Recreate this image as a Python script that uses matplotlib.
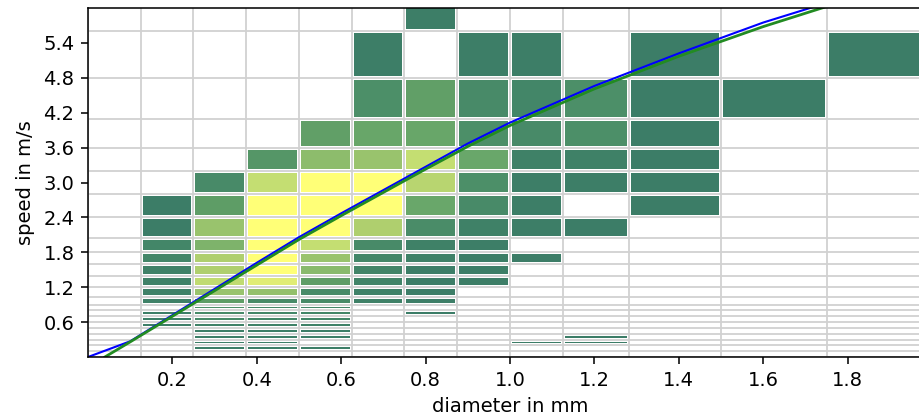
import numpy as np
import matplotlib
matplotlib.use("Agg")
import matplotlib.pyplot as plt
from matplotlib.colors import LinearSegmentedColormap, Normalize

# Parsivel-like class centres
diam_centers = [0.062, 0.187, 0.312, 0.437, 0.562, 0.687, 0.812, 0.937,
                1.062, 1.187, 1.375, 1.625, 1.875]
speed_centers = [0.05, 0.15, 0.25, 0.35, 0.45, 0.55, 0.65, 0.75, 0.85, 0.95,
                 1.1, 1.3, 1.5, 1.7, 1.9, 2.2, 2.6, 3.0, 3.4, 3.8, 4.4, 5.2, 6.0]

# relative drop density per (speed row, diameter column); 0 = no drops
density = [
    [0, 0, 0, 0, 0, 0, 0, 0, 0, 0, 0, 0, 0],        # 0.05
    [0, 0, 2, 2, 2, 0, 0, 0, 0, 0, 0, 0, 0],        # 0.15
    [0, 0, 2, 2, 0, 0, 0, 0, 1, 1, 0, 0, 0],        # 0.25
    [0, 0, 2, 2, 2, 0, 0, 0, 0, 1, 0, 0, 0],        # 0.35
    [0, 0, 2, 2, 2, 0, 0, 0, 0, 0, 0, 0, 0],        # 0.45
    [0, 2, 3, 3, 3, 0, 0, 0, 0, 0, 0, 0, 0],        # 0.55
    [0, 2, 9, 6, 6, 0, 0, 0, 0, 0, 0, 0, 0],        # 0.65
    [0, 2, 9, 6, 6, 0, 1, 0, 0, 0, 0, 0, 0],        # 0.75
    [0, 0, 12, 6, 6, 0, 0, 0, 0, 0, 0, 0, 0],       # 0.85
    [0, 3, 22, 9, 9, 3, 2, 0, 0, 0, 0, 0, 0],       # 0.95
    [0, 3, 52, 50, 9, 3, 2, 0, 0, 0, 0, 0, 0],      # 1.1
    [0, 3, 70, 85, 22, 5, 2, 2, 0, 0, 0, 0, 0],     # 1.3
    [0, 3, 62, 100, 45, 5, 2, 2, 0, 0, 0, 0, 0],    # 1.5
    [0, 6, 62, 100, 52, 6, 3, 2, 1, 0, 0, 0, 0],    # 1.7
    [0, 6, 40, 100, 72, 9, 3, 2, 0, 0, 0, 0, 0],    # 1.9
    [0, 1, 52, 100, 100, 62, 10, 3, 2, 1, 0, 0, 0], # 2.2
    [0, 1, 22, 100, 100, 100, 30, 9, 2, 0, 1, 0, 0],# 2.6
    [0, 0, 9, 72, 100, 100, 66, 12, 2, 2, 1, 0, 0], # 3.0
    [0, 0, 0, 17, 47, 52, 72, 30, 3, 3, 1, 0, 0],   # 3.4
    [0, 0, 0, 0, 24, 29, 29, 12, 9, 12, 1, 0, 0],   # 3.8
    [0, 0, 0, 0, 0, 12, 24, 9, 6, 12, 1, 1, 0],     # 4.4
    [0, 0, 0, 0, 0, 2, 0, 2, 2, 0, 1, 0, 1],        # 5.2
    [0, 0, 0, 0, 0, 0, 2, 0, 0, 0, 0, 0, 0],        # 6.0
]

# reference fall-speed curves
blue_d = [0.0, 0.1, 0.2, 0.3, 0.4, 0.5, 0.6, 0.7, 0.8, 0.9, 1.0, 1.2, 1.4, 1.6, 1.8, 2.0]
blue_v = [0.0, 0.27, 0.72, 1.17, 1.62, 2.06, 2.47, 2.87, 3.27, 3.67, 4.03, 4.66, 5.22, 5.75, 6.20, 6.60]
green_d = [0.04, 0.1, 0.2, 0.3, 0.4, 0.5, 0.6, 0.7, 0.8, 0.9, 1.0, 1.2, 1.4, 1.6, 1.8, 2.0]
green_v = [0.0, 0.26, 0.70, 1.14, 1.58, 2.02, 2.43, 2.83, 3.23, 3.62, 3.98, 4.61, 5.17, 5.68, 6.14, 6.55]

xticks = [0.2, 0.4, 0.6, 0.8, 1.0, 1.2, 1.4, 1.6, 1.8]
yticks = [0.6, 1.2, 1.8, 2.4, 3.0, 3.6, 4.2, 4.8, 5.4]

cmap = LinearSegmentedColormap.from_list("dv", [
    (0.0, "#3c7d67"), (0.06, "#458868"), (0.12, "#4e9068"), (0.22, "#5f9e66"),
    (0.30, "#6aa86a"), (0.47, "#8fbd6c"), (0.62, "#b0d06e"), (0.72, "#c4de72"),
    (0.85, "#e0ec74"), (1.0, "#ffff77")])
cmap.set_under("white")

S = 1.4  # rendering scale of the original
fig = plt.figure(figsize=(9.2, 4.2), dpi=100)
ax = fig.add_axes([88 / 920, 63 / 420, (932 - 88) / 920, (357 - 8) / 420])

dc = np.array(diam_centers)
sc = np.array(speed_centers)
Z = np.array(density, dtype=float)
ax.pcolormesh(dc, sc, Z, shading="nearest", cmap=cmap,
              norm=Normalize(vmin=1, vmax=100),
              edgecolors="white", linewidth=1.7, zorder=1)

# grey cell borders on top (bin edges halfway between class centres)
xe = np.concatenate([[dc[0] - (dc[1] - dc[0]) / 2], (dc[:-1] + dc[1:]) / 2,
                     [dc[-1] + (dc[-1] - dc[-2]) / 2]])
ye = np.concatenate([[sc[0] - (sc[1] - sc[0]) / 2], (sc[:-1] + sc[1:]) / 2,
                     [sc[-1] + (sc[-1] - sc[-2]) / 2]])
for x in xe:
    ax.axvline(x, color="#d1d1d1", lw=1.3, zorder=1.5)
for y in ye:
    ax.axhline(y, color="#d1d1d1", lw=1.3, zorder=1.5)

ax.plot(blue_d, blue_v, color="blue", lw=1.5, zorder=3)
ax.plot(green_d, green_v, color="forestgreen", lw=2.0, zorder=3)

ax.set_xlim(0, 2.0)
ax.set_ylim(0, 6.0)
ax.set_xticks(xticks)
ax.set_yticks(yticks)
ax.tick_params(labelsize=10 * S, length=3.5 * S, width=0.8 * S, pad=3.5 * S)
for sp in ax.spines.values():
    sp.set_linewidth(0.8 * S)
    sp.set_zorder(4)
ax.set_xlabel("diameter in mm", fontsize=10 * S, labelpad=4 * S)
ax.set_ylabel("speed in m/s", fontsize=10 * S, labelpad=4 * S)

fig.savefig("out.png", dpi=100)
